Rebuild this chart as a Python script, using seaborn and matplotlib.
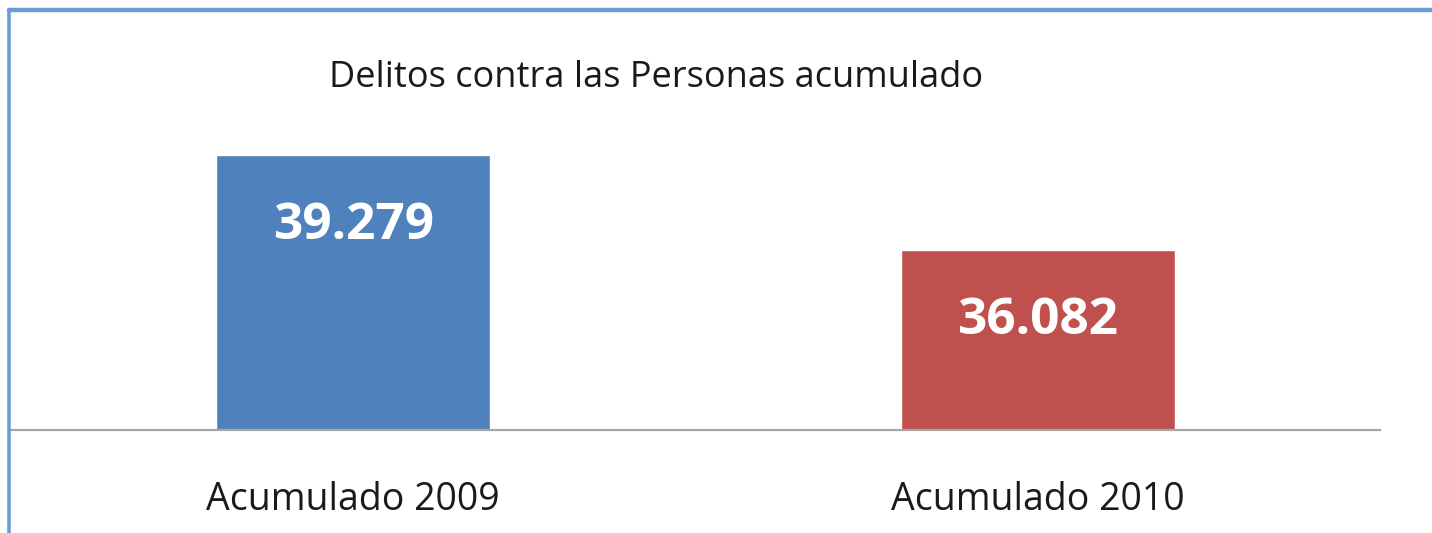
import matplotlib
matplotlib.use("Agg")
import matplotlib.pyplot as plt
from matplotlib.lines import Line2D
import seaborn as sns
import pandas as pd

# data
categorias = ["Acumulado 2009", "Acumulado 2010"]
valores = [39279, 36082]
etiquetas = ["39.279", "36.082"]
colores = ["#4F81BD", "#C0504D"]
titulo = "Delitos contra las Personas acumulado"

df = pd.DataFrame({"cat": categorias, "val": valores})

sns.set_style("white")
plt.rcParams["font.family"] = ["Open Sans", "DejaVu Sans"]

fig = plt.figure(figsize=(14.32, 5.33), dpi=100)
ax = fig.add_axes([0.0077, 0.1932, 0.956, 0.667])

sns.barplot(data=df, x="cat", y="val", hue="cat", palette=colores,
            width=0.4, legend=False, ax=ax, saturation=1)

ax.set_xlim(-0.5, 1.5)
ax.set_ylim(30000, 42000)

# value labels inside the bars
for patch, txt in zip(ax.patches, etiquetas):
    ax.annotate(txt, (patch.get_x() + patch.get_width() / 2, patch.get_height()),
                xytext=(0, -51), textcoords="offset points",
                ha="center", va="center", color="white",
                fontsize=37, fontweight="bold")

for s in ["top", "left", "right"]:
    ax.spines[s].set_visible(False)
ax.spines["bottom"].set_color("#A6A6A6")
ax.spines["bottom"].set_linewidth(1.6)
ax.set_yticks([])
ax.tick_params(axis="x", length=0, pad=37, labelsize=27, labelcolor="#1a1a1a")
ax.set_xlabel("")
ax.set_ylabel("")

fig.text(0.458, 0.853, titulo, ha="center", va="center",
         fontsize=26, color="#1a1a1a")

# blue frame lines (top and left)
fig.add_artist(Line2D([0.0066, 1.0], [0.9812, 0.9812], transform=fig.transFigure,
                      color="#6D9BD8", linewidth=3.2))
fig.add_artist(Line2D([0.0066, 0.0066], [0.0, 0.9812], transform=fig.transFigure,
                      color="#6D9BD8", linewidth=2.6))

fig.savefig("out.png", dpi=100)
